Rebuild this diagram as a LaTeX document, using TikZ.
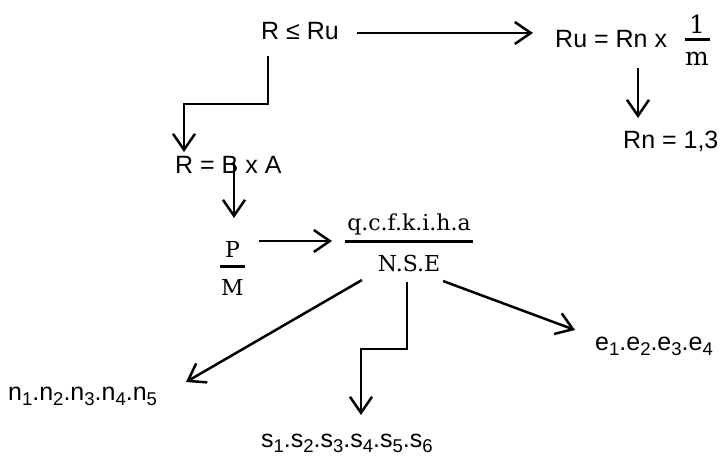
\documentclass[tikz,border=0pt]{standalone}
\usepackage{fontspec}
\setmainfont{Liberation Sans}
\newfontfamily\serifM{DejaVu Serif}
\usetikzlibrary{arrows.meta,calc}
\newcommand{\sbs}[1]{\raisebox{-5pt}{\fontsize{18.5}{20}\selectfont #1}}
\newcommand{\myfrac}[5]{%
  \makebox[0pt][l]{\makebox[#3]{\raisebox{#4}{#1}}}%
  \makebox[0pt][l]{\rule[-1.5pt]{#3}{3pt}}%
  \makebox[#3]{\raisebox{-#5}{#2}}}
\begin{document}
\begin{tikzpicture}[x=1pt,y=-1pt,
  txt/.style={inner sep=0pt, anchor=base west, font=\fontsize{25}{30}\selectfont},
  frc/.style={inner sep=0pt, anchor=base, font=\fontsize{22}{26}\selectfont\serifM},
  con/.style={line width=2.5pt, line join=miter, -{Straight Barb[length=16pt,width=22pt]}}]
\useasboundingbox (0,0) rectangle (725,456);

\node[txt] (A) at (261,39) {R ≤ Ru};
\node[txt] (B) at (555,47) {Ru = Rn x};
\node[frc, font=\fontsize{25}{30}\selectfont\serifM] (Bf) at (697,39) {\myfrac{1}{m}{25pt}{6pt}{26pt}};
\node[txt] (C) at (623,148) {Rn = 1,3};
\node[txt] (D) at (175,173) {R = B x A};
\node[frc] (P) at (232.5,266) {\myfrac{P}{M}{25pt}{9pt}{29pt}};
\node[frc] (Q) at (409,241) {\myfrac{q.c.f.k.i.h.a}{N.S.E}{128pt}{11pt}{30pt}};
\node[txt] (N) at (8,400) {n\sbs{1}.n\sbs{2}.n\sbs{3}.n\sbs{4}.n\sbs{5}};
\node[txt] (S) at (261,447) {s\sbs{1}.s\sbs{2}.s\sbs{3}.s\sbs{4}.s\sbs{5}.s\sbs{6}};
\node[txt] (E) at (595,350) {e\sbs{1}.e\sbs{2}.e\sbs{3}.e\sbs{4}};

\draw[con] ($(A.base west)+(96,-6)$) -- ($(B.base west)+(-22,-14)$);
\draw[con] ($(A.base west)+(7,17)$) -- ++(0,48) -| ($(D.base west)+(9,-21)$);
\draw[con] ($(B.base west)+(83,21)$) -- ($(C.base west)+(15,-30)$);
\draw[con] ($(D.base west)+(59,-10)$) -- ($(P.base)+(1.5,-48)$);
\draw[con] ($(P.base)+(26.5,-25)$) -- ($(Q.base)+(-77,0)$);
\draw[con] ($(Q.base)+(-47,39)$) -- ($(N.base west)+(178,-18)$);
\draw[con] ($(Q.base)+(-2,41)$) -- ++(0,67) -| ($(S.base west)+(100,-32)$);
\draw[con] ($(Q.base)+(34,40)$) -- ($(E.base west)+(-20,-20)$);
\end{tikzpicture}
\end{document}
